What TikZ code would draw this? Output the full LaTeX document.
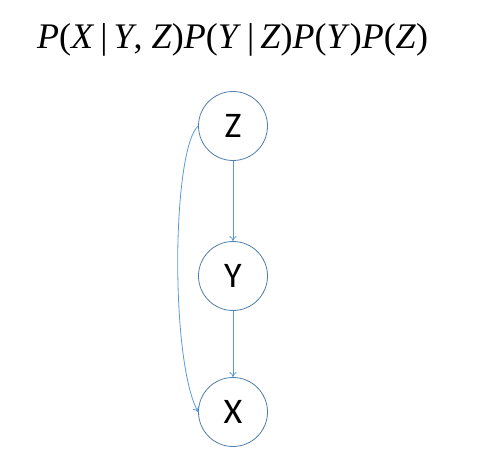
\documentclass[tikz,border=0pt]{standalone}
\usepackage{fontspec}
\setmainfont{Liberation Serif}
\newfontfamily\nodefont{Carlito}
\usetikzlibrary{arrows.meta}
\definecolor{circblue}{RGB}{80,126,174}
\definecolor{arrblue}{RGB}{91,155,213}
\tikzset{
  var/.style={circle, draw=circblue, line width=0.8pt, minimum size=69pt, inner sep=0pt, font=\nodefont\fontsize{36}{36}\selectfont},
  edge/.style={draw=arrblue, line width=0.8pt, -{To[length=5pt,width=7pt]}}
}
\begin{document}
\begin{tikzpicture}[x=1pt,y=1pt]
\useasboundingbox (0,0) rectangle (491,-460);
\node[anchor=base west, inner sep=0pt, font=\fontsize{36}{36}\selectfont] (f) at (37,-49)
  {\textit{P}(\textit{X}\,|\,\textit{Y}, \textit{Z})\textit{P}(\textit{Y}\,|\,\textit{Z})\textit{P}(\textit{Y})\textit{P}(\textit{Z})};
\node[var] (z) at (233,-126) {Z};
\node[var] (y) at (233,-276) {Y};
\node[var] (x) at (233,-412) {X};
\draw[edge] (z) -- (y);
\draw[edge] (y) -- (x);
\draw[edge] (z.west) .. controls (172,-150) and (170,-360) .. (x.west);
\end{tikzpicture}
\end{document}
